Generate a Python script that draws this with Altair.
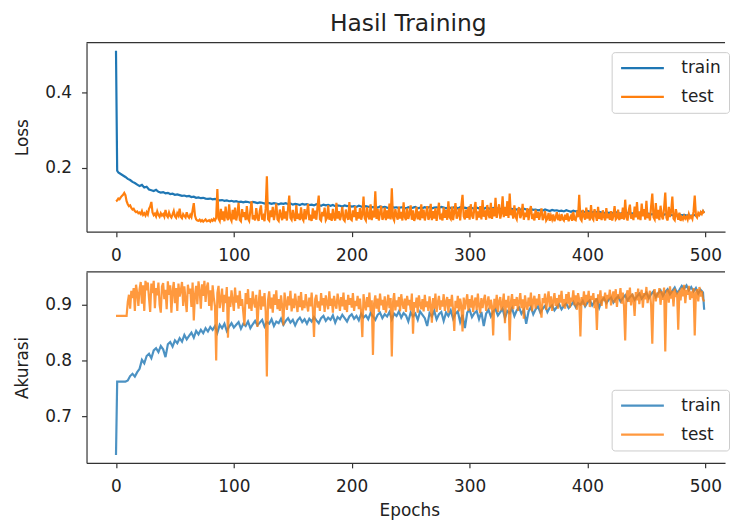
import altair as alt
import pandas as pd

# Epoch positions of the logged points
TRAIN_EPOCHS = [0, 1] + list(range(2, 500, 2)) + [499]
TEST_EPOCHS = list(range(500))

loss_train = [
    0.510, 0.193,
    0.188, 0.184, 0.180, 0.176, 0.171, 0.168, 0.163, 0.160, 0.156, 0.152,
    0.155, 0.148, 0.150, 0.143, 0.141, 0.139, 0.142, 0.137, 0.135, 0.136,
    0.133, 0.134, 0.131, 0.132, 0.129, 0.130, 0.128, 0.126, 0.127, 0.125,
    0.126, 0.123, 0.124, 0.121, 0.122, 0.120, 0.121, 0.119, 0.118, 0.119,
    0.117, 0.118, 0.116, 0.114, 0.115, 0.113, 0.114, 0.112, 0.113, 0.111,
    0.112, 0.110, 0.111, 0.109, 0.111, 0.110, 0.108, 0.110, 0.109, 0.107,
    0.109, 0.108, 0.106, 0.108, 0.107, 0.105, 0.107, 0.106, 0.104, 0.106,
    0.105, 0.107, 0.104, 0.106, 0.103, 0.105, 0.104, 0.102, 0.105, 0.103,
    0.104, 0.102, 0.103, 0.101, 0.104, 0.102, 0.100, 0.103, 0.101, 0.102,
    0.100, 0.102, 0.099, 0.101, 0.100, 0.098, 0.101, 0.099, 0.100, 0.098,
    0.099, 0.097, 0.100, 0.098, 0.096, 0.099, 0.097, 0.098, 0.096, 0.097,
    0.095, 0.098, 0.096, 0.097, 0.095, 0.094, 0.097, 0.095, 0.096, 0.094,
    0.096, 0.095, 0.093, 0.096, 0.094, 0.095, 0.097, 0.093, 0.095, 0.094,
    0.096, 0.094, 0.097, 0.093, 0.095, 0.096, 0.094, 0.097, 0.095, 0.093,
    0.096, 0.094, 0.095, 0.097, 0.093, 0.096, 0.094, 0.095, 0.093, 0.096,
    0.094, 0.092, 0.095, 0.093, 0.094, 0.092, 0.095, 0.093, 0.091, 0.094,
    0.092, 0.093, 0.091, 0.094, 0.092, 0.090, 0.093, 0.091, 0.092, 0.090,
    0.091, 0.089, 0.092, 0.090, 0.088, 0.091, 0.089, 0.090, 0.088, 0.089,
    0.087, 0.090, 0.088, 0.086, 0.089, 0.087, 0.088, 0.086, 0.087, 0.085,
    0.088, 0.086, 0.084, 0.087, 0.085, 0.086, 0.084, 0.085, 0.083, 0.086,
    0.084, 0.082, 0.085, 0.083, 0.084, 0.082, 0.080, 0.083, 0.081, 0.082,
    0.080, 0.083, 0.081, 0.079, 0.082, 0.080, 0.081, 0.079, 0.080, 0.078,
    0.081, 0.079, 0.077, 0.080, 0.078, 0.079, 0.077, 0.078, 0.076, 0.079,
    0.077, 0.075, 0.078, 0.076, 0.077, 0.075, 0.076, 0.074, 0.077, 0.075,
    0.076, 0.074, 0.075, 0.073, 0.076, 0.074, 0.075, 0.079, 0.086,
    0.081,
]

loss_test = [
    0.112, 0.114, 0.119, 0.117, 0.122, 0.126, 0.129, 0.134, 0.128, 0.112,
    0.104, 0.099, 0.101, 0.094, 0.090, 0.092, 0.086, 0.083, 0.085, 0.080,
    0.082, 0.078, 0.086, 0.076, 0.080, 0.074, 0.083, 0.077, 0.092, 0.098,
    0.110, 0.082, 0.075, 0.079, 0.072, 0.085, 0.076, 0.071, 0.080, 0.074,
    0.078, 0.071, 0.089, 0.075, 0.070, 0.082, 0.073, 0.069, 0.077, 0.086,
    0.072, 0.068, 0.080, 0.074, 0.092, 0.071, 0.067, 0.078, 0.073, 0.069,
    0.083, 0.072, 0.068, 0.076, 0.070, 0.088, 0.107, 0.074, 0.064, 0.061,
    0.060, 0.063, 0.059, 0.062, 0.058, 0.061, 0.064, 0.059, 0.060, 0.062,
    0.058, 0.063, 0.060, 0.065, 0.061, 0.068, 0.144, 0.066, 0.060, 0.092,
    0.063, 0.085, 0.059, 0.098, 0.071, 0.062, 0.104, 0.067, 0.060, 0.089,
    0.064, 0.095, 0.061, 0.078, 0.108, 0.063, 0.059, 0.091, 0.070, 0.083,
    0.062, 0.099, 0.066, 0.060, 0.087, 0.112, 0.064, 0.075, 0.061, 0.094,
    0.068, 0.060, 0.086, 0.101, 0.063, 0.072, 0.059, 0.093, 0.178, 0.065,
    0.061, 0.088, 0.070, 0.097, 0.062, 0.081, 0.106, 0.064, 0.060, 0.090,
    0.073, 0.062, 0.099, 0.066, 0.085, 0.061, 0.094, 0.127, 0.068, 0.063,
    0.089, 0.071, 0.060, 0.102, 0.065, 0.079, 0.062, 0.096, 0.067, 0.061,
    0.091, 0.064, 0.083, 0.105, 0.062, 0.070, 0.060, 0.093, 0.066, 0.087,
    0.063, 0.099, 0.127, 0.065, 0.061, 0.084, 0.072, 0.095, 0.062, 0.068,
    0.101, 0.063, 0.080, 0.060, 0.092, 0.069, 0.061, 0.108, 0.066, 0.086,
    0.062, 0.075, 0.097, 0.064, 0.060, 0.090, 0.071, 0.063, 0.110, 0.065,
    0.062, 0.088, 0.070, 0.099, 0.061, 0.083, 0.066, 0.094, 0.063, 0.076,
    0.124, 0.067, 0.061, 0.096, 0.072, 0.064, 0.104, 0.062, 0.087, 0.069,
    0.138, 0.065, 0.092, 0.061, 0.081, 0.100, 0.063, 0.070, 0.095, 0.062,
    0.088, 0.066, 0.106, 0.064, 0.146, 0.068, 0.061, 0.091, 0.074, 0.063,
    0.098, 0.066, 0.084, 0.061, 0.109, 0.070, 0.062, 0.093, 0.065, 0.079,
    0.101, 0.063, 0.088, 0.060, 0.071, 0.097, 0.064, 0.085, 0.062, 0.104,
    0.067, 0.090, 0.061, 0.078, 0.099, 0.063, 0.070, 0.105, 0.062, 0.086,
    0.066, 0.094, 0.060, 0.082, 0.108, 0.064, 0.073, 0.061, 0.096, 0.068,
    0.089, 0.063, 0.112, 0.070, 0.065, 0.098, 0.062, 0.084, 0.107, 0.066,
    0.075, 0.093, 0.061, 0.101, 0.129, 0.072, 0.064, 0.090, 0.068, 0.097,
    0.063, 0.104, 0.074, 0.066, 0.092, 0.110, 0.062, 0.085, 0.069, 0.099,
    0.064, 0.115, 0.071, 0.088, 0.063, 0.102, 0.076, 0.067, 0.108, 0.065,
    0.094, 0.072, 0.121, 0.068, 0.086, 0.104, 0.066, 0.079, 0.125, 0.070,
    0.097, 0.073, 0.112, 0.068, 0.132, 0.075, 0.090, 0.066, 0.101, 0.071,
    0.064, 0.088, 0.096, 0.067, 0.077, 0.105, 0.063, 0.082, 0.070, 0.094,
    0.062, 0.086, 0.099, 0.065, 0.073, 0.061, 0.090, 0.068, 0.084, 0.063,
    0.079, 0.093, 0.062, 0.070, 0.086, 0.061, 0.066, 0.081, 0.060, 0.074,
    0.064, 0.077, 0.059, 0.069, 0.083, 0.062, 0.072, 0.060, 0.078, 0.065,
    0.061, 0.076, 0.063, 0.080, 0.059, 0.068, 0.074, 0.060, 0.084, 0.064,
    0.062, 0.079, 0.070, 0.129, 0.066, 0.061, 0.089, 0.072, 0.063, 0.095,
    0.066, 0.084, 0.061, 0.102, 0.068, 0.063, 0.091, 0.075, 0.060, 0.097,
    0.065, 0.082, 0.062, 0.088, 0.070, 0.061, 0.094, 0.067, 0.079, 0.063,
    0.086, 0.061, 0.073, 0.099, 0.064, 0.068, 0.090, 0.062, 0.081, 0.065,
    0.095, 0.063, 0.116, 0.070, 0.061, 0.087, 0.103, 0.066, 0.078, 0.062,
    0.098, 0.069, 0.110, 0.064, 0.085, 0.062, 0.106, 0.072, 0.091, 0.063,
    0.113, 0.067, 0.080, 0.061, 0.099, 0.132, 0.070, 0.064, 0.107, 0.066,
    0.089, 0.062, 0.100, 0.073, 0.064, 0.094, 0.135, 0.068, 0.061, 0.097,
    0.070, 0.085, 0.124, 0.066, 0.062, 0.091, 0.075, 0.063, 0.082, 0.060,
    0.070, 0.064, 0.073, 0.066, 0.071, 0.063, 0.078, 0.068, 0.072, 0.065,
    0.085, 0.127, 0.074, 0.069, 0.081, 0.076, 0.083, 0.078, 0.086, 0.080,
]

acc_train = [
    0.630, 0.762,
    0.762, 0.762, 0.762, 0.762, 0.764, 0.772, 0.776, 0.771, 0.779, 0.785,
    0.801, 0.795, 0.808, 0.812, 0.804, 0.818, 0.822, 0.815, 0.826, 0.820,
    0.806, 0.829, 0.833, 0.825, 0.836, 0.831, 0.840, 0.834, 0.846, 0.838,
    0.844, 0.850, 0.841, 0.853, 0.847, 0.855, 0.849, 0.858, 0.852, 0.860,
    0.855, 0.862, 0.850, 0.864, 0.858, 0.866, 0.853, 0.861, 0.867, 0.859,
    0.864, 0.869, 0.857, 0.866, 0.862, 0.870, 0.858, 0.865, 0.871, 0.863,
    0.868, 0.873, 0.861, 0.869, 0.866, 0.874, 0.862, 0.870, 0.867, 0.875,
    0.864, 0.871, 0.876, 0.868, 0.873, 0.863, 0.872, 0.877, 0.869, 0.874,
    0.866, 0.875, 0.870, 0.878, 0.872, 0.867, 0.876, 0.880, 0.871, 0.877,
    0.873, 0.881, 0.868, 0.878, 0.874, 0.882, 0.876, 0.870, 0.879, 0.883,
    0.875, 0.880, 0.872, 0.884, 0.877, 0.881, 0.874, 0.885, 0.879, 0.873,
    0.882, 0.886, 0.876, 0.883, 0.879, 0.887, 0.874, 0.884, 0.880, 0.888,
    0.877, 0.885, 0.881, 0.870, 0.886, 0.879, 0.884, 0.873, 0.888, 0.882,
    0.876, 0.862, 0.885, 0.879, 0.889, 0.874, 0.883, 0.887, 0.871, 0.886,
    0.880, 0.890, 0.875, 0.884, 0.888, 0.869, 0.882, 0.858, 0.886, 0.891,
    0.878, 0.885, 0.889, 0.874, 0.887, 0.862, 0.884, 0.891, 0.879, 0.888,
    0.892, 0.881, 0.887, 0.893, 0.876, 0.889, 0.885, 0.894, 0.880, 0.890,
    0.895, 0.884, 0.891, 0.866, 0.888, 0.896, 0.883, 0.892, 0.897, 0.886,
    0.893, 0.898, 0.887, 0.895, 0.899, 0.890, 0.896, 0.901, 0.892, 0.898,
    0.902, 0.894, 0.899, 0.905, 0.896, 0.903, 0.900, 0.907, 0.897, 0.904,
    0.908, 0.899, 0.906, 0.910, 0.895, 0.907, 0.912, 0.903, 0.909, 0.913,
    0.904, 0.911, 0.915, 0.906, 0.912, 0.917, 0.908, 0.914, 0.918, 0.909,
    0.915, 0.920, 0.911, 0.917, 0.922, 0.912, 0.919, 0.924, 0.914, 0.921,
    0.926, 0.916, 0.923, 0.928, 0.919, 0.925, 0.931, 0.921, 0.927, 0.934,
    0.929, 0.935, 0.926, 0.932, 0.924, 0.930, 0.920, 0.927, 0.922,
    0.891,
]

acc_test = [
    0.880, 0.880, 0.880, 0.880, 0.880, 0.880, 0.880, 0.880, 0.880, 0.880,
    0.905, 0.918, 0.893, 0.925, 0.912, 0.930, 0.889, 0.936, 0.921, 0.898,
    0.928, 0.941, 0.902, 0.935, 0.889, 0.943, 0.926, 0.940, 0.912, 0.887,
    0.938, 0.921, 0.943, 0.894, 0.930, 0.917, 0.940, 0.900, 0.886, 0.933,
    0.939, 0.910, 0.927, 0.892, 0.942, 0.918, 0.935, 0.886, 0.924, 0.941,
    0.903, 0.930, 0.889, 0.938, 0.915, 0.926, 0.941, 0.898, 0.933, 0.909,
    0.887, 0.936, 0.920, 0.929, 0.896, 0.940, 0.872, 0.918, 0.934, 0.901,
    0.942, 0.925, 0.893, 0.937, 0.916, 0.943, 0.905, 0.931, 0.940, 0.898,
    0.926, 0.890, 0.935, 0.912, 0.897, 0.800, 0.921, 0.934, 0.894, 0.910,
    0.929, 0.887, 0.918, 0.903, 0.932, 0.841, 0.915, 0.896, 0.926, 0.908,
    0.889, 0.931, 0.904, 0.917, 0.893, 0.925, 0.898, 0.910, 0.886, 0.863,
    0.921, 0.901, 0.928, 0.893, 0.912, 0.889, 0.924, 0.905, 0.895, 0.918,
    0.860, 0.902, 0.927, 0.891, 0.915, 0.897, 0.921, 0.888, 0.771, 0.909,
    0.924, 0.893, 0.913, 0.886, 0.919, 0.900, 0.926, 0.892, 0.910, 0.889,
    0.917, 0.897, 0.863, 0.922, 0.904, 0.891, 0.915, 0.899, 0.925, 0.888,
    0.911, 0.894, 0.920, 0.902, 0.887, 0.916, 0.896, 0.923, 0.890, 0.908,
    0.894, 0.919, 0.901, 0.888, 0.913, 0.897, 0.922, 0.892, 0.842, 0.910,
    0.918, 0.895, 0.906, 0.889, 0.921, 0.899, 0.912, 0.887, 0.917, 0.903,
    0.892, 0.924, 0.898, 0.911, 0.886, 0.916, 0.901, 0.893, 0.920, 0.906,
    0.889, 0.914, 0.897, 0.922, 0.891, 0.909, 0.887, 0.918, 0.900, 0.912,
    0.895, 0.921, 0.889, 0.907, 0.898, 0.916, 0.892, 0.911, 0.886, 0.842,
    0.919, 0.900, 0.890, 0.914, 0.896, 0.922, 0.888, 0.908, 0.810, 0.903,
    0.917, 0.893, 0.911, 0.887, 0.920, 0.899, 0.909, 0.891, 0.915, 0.886,
    0.902, 0.918, 0.894, 0.912, 0.807, 0.905, 0.921, 0.890, 0.908, 0.897,
    0.914, 0.888, 0.919, 0.902, 0.893, 0.911, 0.887, 0.916, 0.899, 0.909,
    0.890, 0.920, 0.848, 0.905, 0.895, 0.913, 0.886, 0.917, 0.901, 0.892,
    0.910, 0.888, 0.918, 0.896, 0.906, 0.889, 0.915, 0.899, 0.868, 0.912,
    0.893, 0.920, 0.887, 0.904, 0.916, 0.891, 0.908, 0.897, 0.919, 0.889,
    0.905, 0.914, 0.886, 0.910, 0.897, 0.918, 0.890, 0.853, 0.907, 0.894,
    0.916, 0.888, 0.911, 0.898, 0.852, 0.913, 0.892, 0.906, 0.919, 0.889,
    0.910, 0.895, 0.917, 0.887, 0.904, 0.913, 0.891, 0.920, 0.898, 0.885,
    0.912, 0.894, 0.908, 0.918, 0.889, 0.903, 0.915, 0.892, 0.909, 0.897,
    0.845, 0.911, 0.893, 0.918, 0.887, 0.906, 0.914, 0.890, 0.902, 0.920,
    0.867, 0.909, 0.895, 0.916, 0.836, 0.905, 0.919, 0.892, 0.910, 0.898,
    0.914, 0.889, 0.906, 0.921, 0.894, 0.910, 0.875, 0.917, 0.900, 0.891,
    0.913, 0.897, 0.922, 0.888, 0.908, 0.916, 0.893, 0.911, 0.899, 0.919,
    0.895, 0.877, 0.912, 0.903, 0.920, 0.891, 0.909, 0.924, 0.896, 0.915,
    0.889, 0.907, 0.921, 0.898, 0.912, 0.893, 0.918, 0.904, 0.925, 0.897,
    0.910, 0.893, 0.919, 0.902, 0.923, 0.895, 0.913, 0.906, 0.926, 0.899,
    0.917, 0.891, 0.921, 0.909, 0.843, 0.914, 0.900, 0.924, 0.897, 0.918,
    0.905, 0.925, 0.896, 0.916, 0.909, 0.921, 0.894, 0.912, 0.855, 0.919,
    0.903, 0.926, 0.898, 0.915, 0.907, 0.922, 0.893, 0.918, 0.910, 0.927,
    0.899, 0.915, 0.924, 0.904, 0.928, 0.896, 0.919, 0.911, 0.930, 0.902,
    0.922, 0.897, 0.836, 0.917, 0.926, 0.905, 0.931, 0.899, 0.920, 0.912,
    0.880, 0.923, 0.908, 0.929, 0.901, 0.918, 0.927, 0.895, 0.921, 0.910,
    0.932, 0.903, 0.916, 0.925, 0.898, 0.830, 0.919, 0.928, 0.906, 0.922,
    0.913, 0.930, 0.900, 0.924, 0.909, 0.931, 0.816, 0.918, 0.927, 0.904,
    0.933, 0.911, 0.925, 0.897, 0.929, 0.914, 0.922, 0.855, 0.926, 0.908,
    0.931, 0.915, 0.936, 0.903, 0.927, 0.918, 0.934, 0.909, 0.924, 0.912,
    0.930, 0.845, 0.921, 0.928, 0.906, 0.932, 0.915, 0.925, 0.910, 0.906,
]

SERIES = ["train", "test"]
BLUE = "#1f77b4"
ORANGE = "#ff7f0e"
FONT = "DejaVu Sans"
INK = "#222222"
SPINE = "#333333"
X_TICKS = [0, 100, 200, 300, 400, 500]
X_DOMAIN = [-25, 516.7]
PLOT_W = 642


def long_frame(train, test):
    a = pd.DataFrame({"epoch": TRAIN_EPOCHS, "value": train, "series": "train"})
    b = pd.DataFrame({"epoch": TEST_EPOCHS, "value": test, "series": "test"})
    return pd.concat([a, b], ignore_index=True)


def panel(df, y_domain, y_ticks, y_title, height, legend_y, opacity,
          x_title=None, title=None):
    x_axis = dict(values=X_TICKS, labelPadding=11, titlePadding=8,
                  titleX=PLOT_W / 2 + 3.5, title=x_title)
    enc = dict(
        x=alt.X("epoch:Q", scale=alt.Scale(domain=X_DOMAIN, nice=False, zero=False),
                axis=alt.Axis(**x_axis)),
        y=alt.Y("value:Q", scale=alt.Scale(domain=y_domain, nice=False, zero=False),
                axis=alt.Axis(values=y_ticks, format=".1f", title=y_title,
                              labelPadding=10, titlePadding=13)),
        color=alt.Color(
            "series:N",
            scale=alt.Scale(domain=SERIES, range=[BLUE, ORANGE]),
            legend=alt.Legend(
                title=None, orient="none", legendX=528, legendY=legend_y,
                direction="vertical",
                symbolType="stroke", symbolSize=1850, symbolStrokeWidth=2.2,
                symbolOpacity=opacity, clipHeight=16,
                labelFontSize=17, labelFont=FONT, labelColor=INK, labelOffset=16,
                rowPadding=12, padding=8, cornerRadius=3,
                fillColor="white", strokeColor="#cccccc",
            ),
        ),
    )
    base = alt.Chart(df).mark_line(strokeWidth=2.2, opacity=opacity, clip=True).encode(**enc)
    train_line = base.transform_filter(alt.datum.series == "train")
    test_line = base.transform_filter(alt.datum.series == "test")
    top_spine = alt.Chart(pd.DataFrame({"k": [0]})).mark_rule(
        color=SPINE, strokeWidth=1.2
    ).encode(y=alt.value(0))
    props = dict(width=PLOT_W, height=height)
    if title is not None:
        props["title"] = alt.Title(title, fontSize=23.5, font=FONT, fontWeight="normal",
                                   color=INK, offset=7, dx=2.5)
    return alt.layer(train_line, test_line, top_spine).properties(**props)


loss_df = long_frame(loss_train, loss_test)
acc_df = long_frame(acc_train, acc_test)

top = panel(loss_df, [0.0315, 0.531], [0.2, 0.4], "Loss", 190, 9.5, 1.0,
            title="Hasil Training")
bottom = panel(acc_df, [0.616, 0.959], [0.7, 0.8, 0.9], "Akurasi", 192, 118.5, 0.8,
               x_title="Epochs")

chart = (
    alt.vconcat(top, bottom, spacing=7.5)
    .resolve_scale(color="independent")
    .resolve_legend(color="independent")
    .properties(padding={"left": 13, "top": 9.5, "right": 0, "bottom": 2})
    .configure_view(stroke=None)
    .configure_axis(
        grid=False,
        domainColor=SPINE, domainWidth=1.2,
        tickColor=SPINE, tickWidth=1.2, tickSize=5,
        labelFont=FONT, labelFontSize=17, labelColor=INK,
        titleFont=FONT, titleFontSize=17, titleColor=INK, titleFontWeight="normal",
    )
)

chart.save("out.html", embed_options={"renderer": "svg", "actions": False})
